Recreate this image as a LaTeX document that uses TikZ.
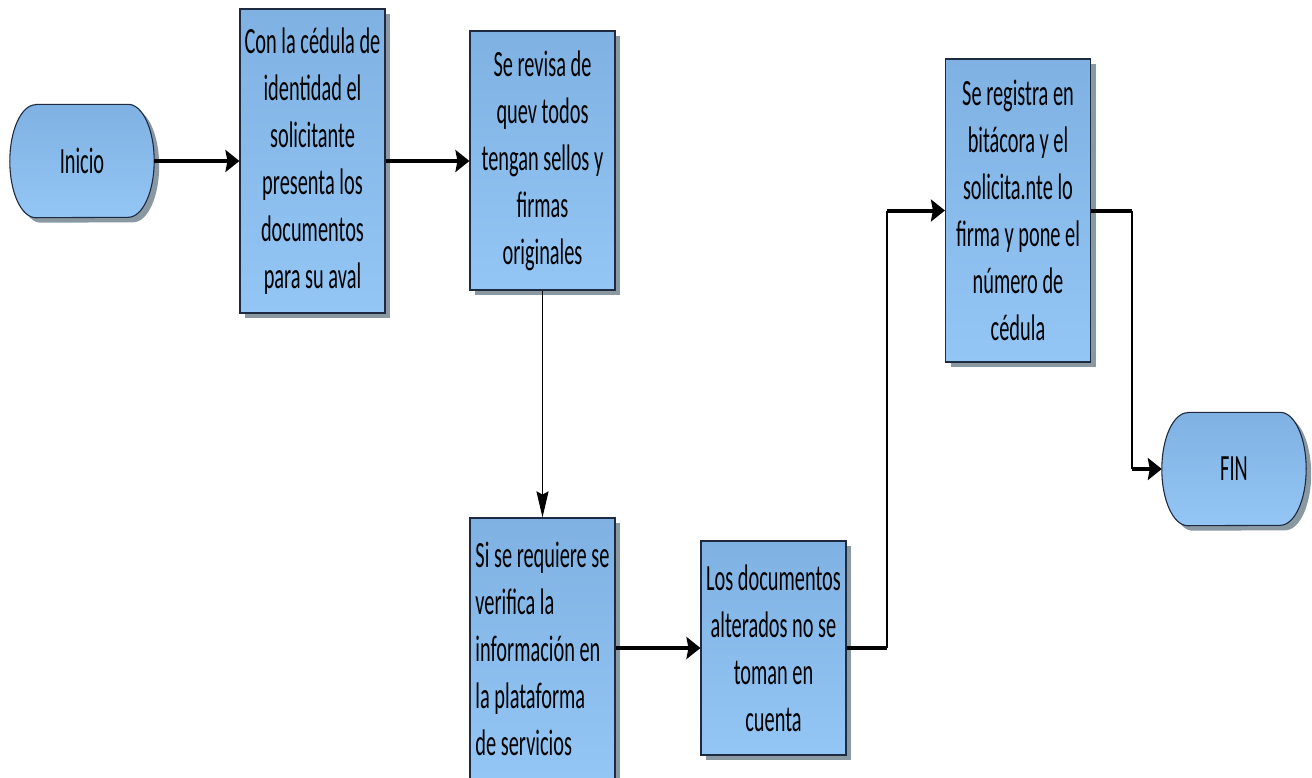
\documentclass[tikz,border=0pt]{standalone}
\usepackage{fontspec}
\setmainfont{Carlito}[FakeStretch=0.55]
\usetikzlibrary{arrows.meta}
\usetikzlibrary{shadows}
\usetikzlibrary{backgrounds}

\definecolor{boxtop}{RGB}{127,178,226}
\definecolor{boxbot}{RGB}{147,198,245}
\definecolor{boxline}{RGB}{30,42,64}
\definecolor{boxshade}{RGB}{138,152,162}

% contorno de inicio/fin: extremos en media elipse
\newcommand\terminalpath[1]{([xshift=26pt]#1.north west) -- ([xshift=-26pt]#1.north east)
  arc[start angle=90, end angle=-90, x radius=26pt, y radius=56.5pt]
  -- ([xshift=26pt]#1.south west)
  arc[start angle=270, end angle=90, x radius=26pt, y radius=56.5pt] -- cycle}

\tikzset{
  paso/.style={rectangle, draw=boxline, line width=1.1pt,
    top color=boxtop, bottom color=boxbot, minimum width=145pt, inner sep=3pt,
    align=center, font=\fontsize{37}{47}\selectfont,
    drop shadow={shadow xshift=5pt, shadow yshift=-5pt, fill=boxshade, opacity=1}},
  terminal/.style={rectangle, minimum width=144pt, minimum height=113pt,
    font=\fontsize{37}{47}\selectfont},
  termfondo/.style={draw=boxline, line width=1.1pt, top color=boxtop, bottom color=boxbot},
  flecha/.style={line width=4pt, -{Stealth[length=14pt,width=22pt,inset=2pt]}},
  tramo/.style={line width=4pt},
  bajada/.style={line width=1.6pt},
}

\begin{document}
\begin{tikzpicture}[x=1pt, y=-1pt]
\useasboundingbox (0,0) rectangle (1312,777);

\node[terminal] (ini) at (82,161) {Inicio};
\node[paso, minimum height=304pt] (b1) at (312.5,161)
  {Con la cédula de\\identidad el\\solicitante\\presenta los\\documentos\\para su aval};
\node[paso, minimum height=259pt] (b2) at (542.5,160.5)
  {Se revisa de\\quev todos\\tengan sellos y\\firmas\\originales};
\node[paso, minimum height=262pt, align=left] (b3) at (542.5,649)
  {Si se requiere se\\verifica la\\información en\\la plataforma\\de servicios};
\node[paso, minimum height=214pt] (b4) at (773.5,648)
  {Los documentos\\alterados no se\\toman en\\cuenta};
\node[paso, minimum height=303pt] (b5) at (1018,210.5)
  {Se registra en\\bitácora y el\\solicita.nte lo\\firma y pone el\\número de\\cédula};
\node[terminal] (fin) at (1234,469) {FIN};

\begin{scope}[on background layer]
\foreach \t in {ini,fin} {
  \fill[boxshade, transform canvas={shift={(5pt,-5pt)}}] \terminalpath{\t};
  \path[termfondo] \terminalpath{\t};
}
\end{scope}

\coordinate (c1) at (887,648);
\coordinate (c2) at (887,210.5);
\coordinate (c3) at (1132,210.5);
\coordinate (c4) at (1132,469);

\draw[flecha] (ini) -- (b1);
\draw[flecha] (b1.east) -- (b1.east -| b2.west);
\draw[bajada, -{Stealth[length=26pt,width=12pt,inset=3pt]}] (b2) -- (b3);
\draw[flecha] (b4.west -| b3.east) -- (b4.west);
\draw[tramo] (b4.east) -- (c1);
\draw[bajada] (c1) -- (c2);
\draw[flecha] (c2) -- (b5.west);
\draw[tramo] (b5.east) -- (c3);
\draw[bajada] (c3) -- (c4);
\draw[flecha] (c4) -- (fin.west);
\end{tikzpicture}
\end{document}
